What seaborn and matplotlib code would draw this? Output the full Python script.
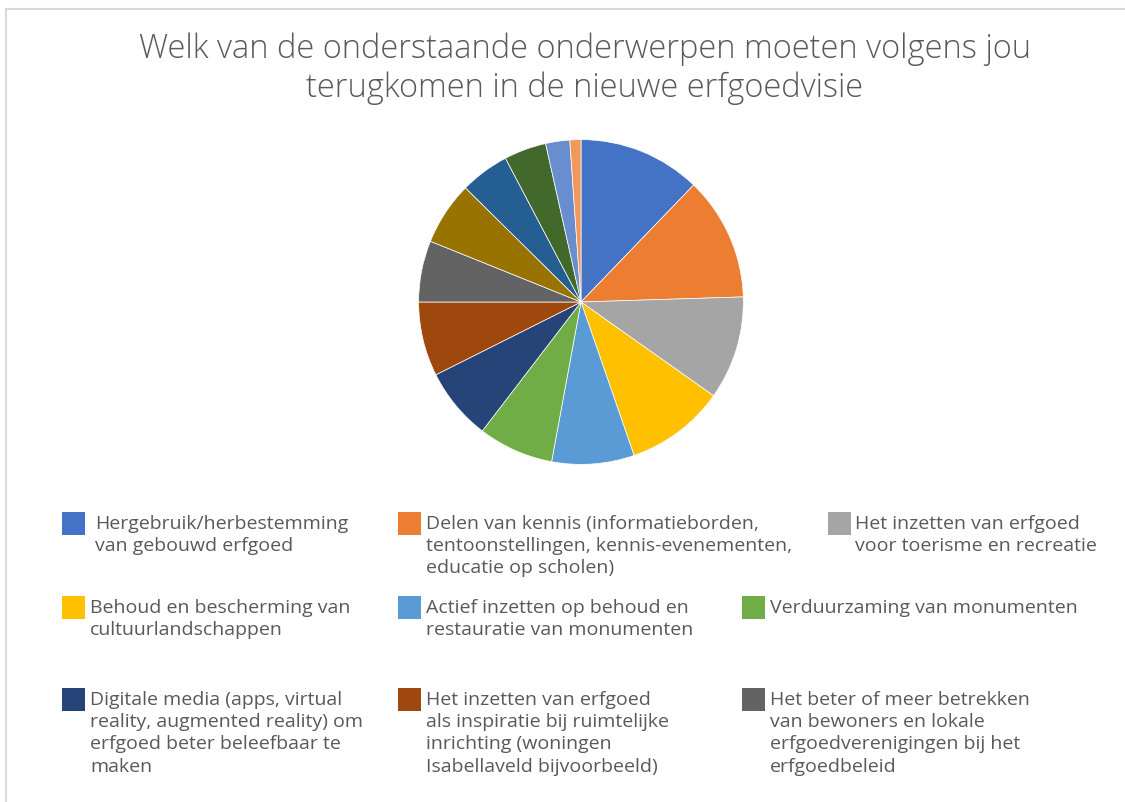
import matplotlib
matplotlib.use("Agg")
import matplotlib.pyplot as plt
from matplotlib.patches import Rectangle
import seaborn as sns

# ---- data ----
categories = [
    "Hergebruik/herbestemming\nvan gebouwd erfgoed",
    "Delen van kennis (informatieborden,\ntentoonstellingen, kennis-evenementen,\neducatie op scholen)",
    "Het inzetten van erfgoed\nvoor toerisme en recreatie",
    "Behoud en bescherming van\ncultuurlandschappen",
    "Actief inzetten op behoud en\nrestauratie van monumenten",
    "Verduurzaming van monumenten",
    "Digitale media (apps, virtual\nreality, augmented reality) om\nerfgoed beter beleefbaar te\nmaken",
    "Het inzetten van erfgoed\nals inspiratie bij ruimtelijke\ninrichting (woningen\nIsabellaveld bijvoorbeeld)",
    "Het beter of meer betrekken\nvan bewoners en lokale\nerfgoedverenigingen bij het\nerfgoedbeleid",
    "Overig 10", "Overig 11", "Overig 12", "Overig 13", "Overig 14",
]
values = [12.2, 12.3, 10.3, 9.9, 8.2, 7.5, 7.2, 7.4, 6.1, 6.3, 4.9, 4.2, 2.4, 1.1]
colors = ["#4472C4", "#ED7D31", "#A5A5A5", "#FFC000", "#5B9BD5", "#70AD47",
          "#264478", "#9E480E", "#636363", "#997300", "#255E91", "#43682B",
          "#698ED0", "#F1975A"]
title = "Welk van de onderstaande onderwerpen moeten volgens jou\nterugkomen in de nieuwe erfgoedvisie"
n_legend = 9

sns.set_theme(style="white")
plt.rcParams["font.family"] = ["Open Sans", "DejaVu Sans"]

W, H = 1125, 803
fig = plt.figure(figsize=(W / 100, H / 100), dpi=100)
fig.patch.set_facecolor("white")

def fx(px):
    return px / W

def fy(py):
    return 1 - py / H

# chart frame (partially visible)
fig.patches.append(Rectangle((fx(6), fy(1200)), fx(1500), fy(10) - fy(1200),
                             transform=fig.transFigure, fill=False,
                             edgecolor="#D9D9D9", linewidth=1.5))

# title
fig.text(fx(585), fy(69), title, ha="center", va="center", fontsize=23.5,
         color="#595959", fontweight="light", linespacing=1.2)

# pie
cx, cy, r = 581, 303, 164
ax = fig.add_axes([fx(cx - r), fy(cy + r), fx(2 * r), fy(cy - r) - fy(cy + r)])
ax.pie(values, colors=colors, startangle=90, counterclock=False,
       wedgeprops=dict(edgecolor="white", linewidth=0.5), radius=1)
ax.set_xlim(-1.01, 1.01)
ax.set_ylim(-1.01, 1.01)
ax.set_axis_off()

# legend (manual placement)
slots = [
    (62, 513, 95), (398, 513, 426), (828, 513, 855),
    (62, 597, 90), (398, 597, 426), (742, 597, 770),
    (62, 689, 90), (398, 689, 426), (742, 689, 770),
]
sq = 23
for i in range(n_legend):
    mx, my, tx = slots[i]
    fig.patches.append(Rectangle((fx(mx), fy(my + sq)), fx(sq), fy(my) - fy(my + sq),
                                 transform=fig.transFigure, facecolor=colors[i],
                                 edgecolor="none"))
    fig.text(fx(tx), fy(my + 2), categories[i], ha="left", va="top",
             fontsize=14, color="#595959", linespacing=1.3)

fig.savefig("out.png", dpi=100, facecolor="white")
